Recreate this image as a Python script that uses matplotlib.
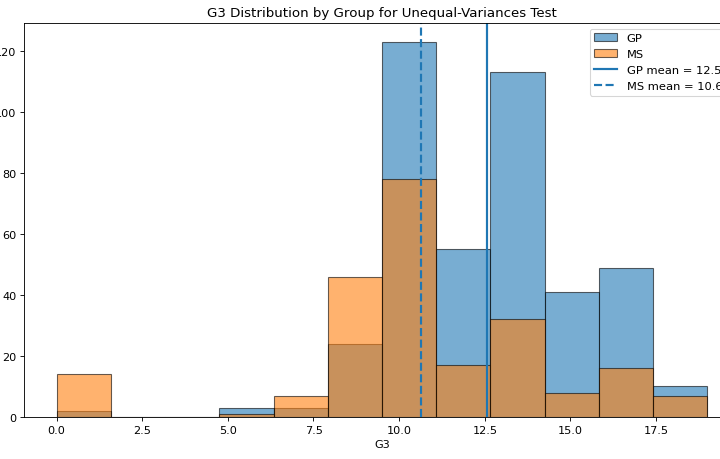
import numpy as np
import matplotlib
matplotlib.use("Agg")
import matplotlib.pyplot as plt

# Histogram bins (12 equal bins from 0 to 19)
g3_min, g3_max, n_bins = 0, 19, 12
gp_counts = [2, 0, 0, 3, 3, 24, 123, 55, 113, 41, 49, 10]
ms_counts = [14, 0, 0, 1, 7, 46, 78, 17, 32, 8, 16, 7]
gp_mean = 12.57
ms_mean = 10.65

edges = np.linspace(g3_min, g3_max, n_bins + 1)
centers = (edges[:-1] + edges[1:]) / 2

DPI = 78.5
fig = plt.figure(figsize=(720 / DPI, 460 / DPI), dpi=DPI)
ax = fig.add_axes([24 / 720, 42 / 460, 716 / 720, 394 / 460])

ax.hist(centers, bins=edges, weights=gp_counts, alpha=0.6, color="C0",
        edgecolor="black", label="GP")
ax.hist(centers, bins=edges, weights=ms_counts, alpha=0.6, color="C1",
        edgecolor="black", label="MS")
ax.axvline(gp_mean, color="C0", linestyle="-", linewidth=2,
           label=f"GP mean = {gp_mean:.2f}")
ax.axvline(ms_mean, color="C0", linestyle="--", linewidth=2,
           label=f"MS mean = {ms_mean:.2f}")

ax.set_title("G3 Distribution by Group for Unequal-Variances Test",
             fontsize=12.3)
ax.set_xlabel("G3", fontsize=10.3)
ax.tick_params(labelsize=10.3)
ax.legend(loc="upper right", fontsize=10.6)

fig.savefig("out.png", dpi=DPI)
